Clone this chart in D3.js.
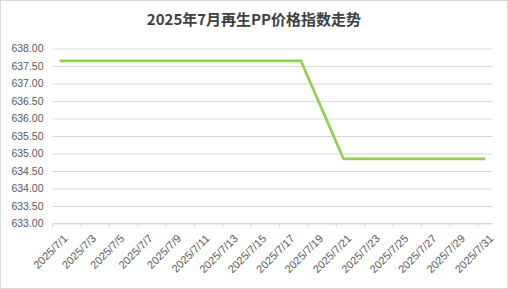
<!DOCTYPE html>
<html>
<head>
<meta charset="utf-8">
<script src="https://cdn.jsdelivr.net/npm/d3@7"></script>
<style>
  body { margin: 0; background: #fff; }
  svg { display: block; }
  .grid line { stroke: #d9d9d9; }
  .grid path { display: none; }
</style>
</head>
<body>
<svg id="chart"></svg>
<script>
// dates of July 2025
const dates = d3.range(1, 32).map(d => "2025/7/" + d);
// price index, null where no value was shown (line drawn straight across)
const values = [
  637.65, 637.65, 637.65, 637.65, 637.65, 637.65, 637.65, 637.65, 637.65, 637.65,
  637.65, 637.65, 637.65, 637.65, 637.65, 637.65, 637.65, 637.65, null, null,
  634.85, 634.85, 634.85, 634.85, 634.85, 634.85, 634.85, 634.85, 634.85, 634.85,
  634.85
];
const yTicks = [633, 633.5, 634, 634.5, 635, 635.5, 636, 636.5, 637, 637.5, 638];
const title = "2025年7月再生PP价格指数走势";

const W = 508, H = 289;
const margin = { top: 48.5, right: 15.5, bottom: 65.5, left: 52.5 };
const width = W - margin.left - margin.right,
      height = H - margin.top - margin.bottom;

const svg = d3.select("#chart").attr("width", W).attr("height", H);

// chart border
svg.append("rect")
  .attr("x", 0.5).attr("y", 0.5)
  .attr("width", W - 1).attr("height", H - 1)
  .attr("fill", "#fff").attr("stroke", "#d9d9d9");

svg.append("text")
  .attr("x", W / 2).attr("y", 25)
  .attr("text-anchor", "middle")
  .attr("font-family", "'Noto Sans CJK SC', sans-serif")
  .attr("font-weight", "bold")
  .attr("font-size", 15)
  .attr("fill", "#404040")
  .text(title);

const g = svg.append("g")
  .attr("transform", `translate(${margin.left}, ${margin.top})`);

const x = d3.scaleBand().domain(dates).range([0, width]);
const y = d3.scaleLinear().domain([633, 638]).range([height, 0]);

// y grid + labels
const yAxis = g.append("g")
  .attr("class", "grid")
  .call(d3.axisLeft(y).tickValues(yTicks).tickSize(-width).tickFormat(d3.format(".2f")).tickPadding(9));
yAxis.selectAll("text")
  .attr("font-family", "'Liberation Sans', Arial, sans-serif")
  .attr("font-size", 10.5)
  .attr("fill", "#595959");

// x axis line and ticks at category boundaries
g.append("line")
  .attr("x1", 0).attr("x2", width)
  .attr("y1", height).attr("y2", height)
  .attr("stroke", "#d9d9d9");

const tickDates = dates.filter((d, i) => i % 2 === 0);
g.selectAll(".xtick")
  .data(tickDates)
  .enter()
  .append("line")
    .attr("x1", d => x(d)).attr("x2", d => x(d))
    .attr("y1", height).attr("y2", height + 4)
    .attr("stroke", "#d9d9d9");

g.selectAll(".xlabel")
  .data(tickDates)
  .enter()
  .append("text")
    .attr("transform", d => `translate(${x(d) + x.bandwidth() / 2 + 6}, ${height + 13}) rotate(-45)`)
    .attr("text-anchor", "end")
    .attr("dy", "0.35em")
    .attr("font-family", "'Liberation Sans', Arial, sans-serif")
    .attr("font-size", 11)
    .attr("fill", "#595959")
    .text(d => d);

// the line
const pts = dates.map((d, i) => ({ d, v: values[i] })).filter(p => p.v !== null);
const valueLine = d3.line()
  .x(p => x(p.d) + x.bandwidth() / 2)
  .y(p => y(p.v));

g.append("path")
  .datum(pts)
  .attr("fill", "none")
  .attr("stroke", "#92d050")
  .attr("stroke-width", 2.75)
  .attr("stroke-linejoin", "round")
  .attr("d", valueLine);
</script>
</body>
</html>
